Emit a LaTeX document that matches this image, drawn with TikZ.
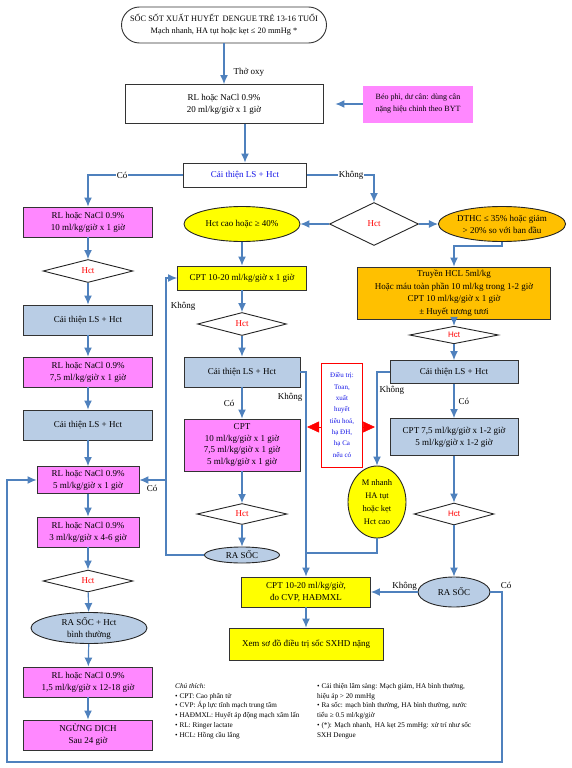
\documentclass[tikz,border=0pt]{standalone}
\usepackage{fontspec}
\setmainfont{Liberation Serif}
\newfontfamily\hsans{Liberation Sans}
\usetikzlibrary{shapes.geometric,arrows.meta}
\definecolor{lnblue}{RGB}{79,129,189}
\definecolor{pinkf}{RGB}{255,136,255}
\definecolor{bluef}{RGB}{185,205,229}
\definecolor{yelf}{RGB}{255,255,0}
\definecolor{orgf}{RGB}{255,192,0}
\definecolor{txtblue}{RGB}{20,20,230}

\begin{document}
\begin{tikzpicture}[x=1pt, y=-1pt,
  every node/.style={font=\fontsize{9}{12}\selectfont, align=center, inner sep=1pt},
  bx/.style={rectangle, draw=black!80, line width=0.9pt},
  pinkbx/.style={bx, fill=pinkf},
  bluebx/.style={bx, fill=bluef},
  yelbx/.style={bx, fill=yelf},
  hct/.style={diamond, draw=black!85, line width=0.9pt, fill=white, inner sep=0pt, text=red},
  oval/.style={ellipse, draw=black!85, line width=0.9pt, inner sep=0pt},
  arr/.style={draw=lnblue, line width=1.2pt, -{Latex[length=9pt,width=8pt]}},
  ln/.style={draw=lnblue, line width=1.2pt},
  redtip/.style={draw=red, line width=0.6pt, -{Triangle[length=12pt,width=11pt]}, red},
  lbl/.style={fill=white, inner sep=1pt},
  note/.style={font=\fontsize{7.2}{9.8}\selectfont, align=left, anchor=north west, inner sep=0pt}]

\useasboundingbox (0,0) rectangle (572,768);

\node[bx, rounded corners=18pt, minimum width=205pt, minimum height=36pt, font=\fontsize{8.3}{12}\selectfont] (top) at (224,25)
  {SỐC SỐT XUẤT HUYẾT\, DENGUE TRẺ 13-16 TUỔI\\Mạch nhanh, HA tụt hoặc kẹt ≤ 20 mmHg *};
\node[bx, minimum width=198pt, minimum height=39pt] (rl) at (224,104) {RL hoặc NaCl 0.9\%\\20 ml/kg/giờ x 1 giờ};
\node[fill=pinkf, minimum width=110pt, minimum height=37pt, font=\fontsize{8}{12}\selectfont] (beo) at (418,104) {Béo phì, dư cân: dùng cân\\nặng hiệu chỉnh theo BYT};
\node[bx, minimum width=123pt, minimum height=24pt, text=txtblue] (ct) at (245,175) {Cải thiện LS + Hct};

% cot trai
\node[pinkbx, minimum width=129pt, minimum height=30pt] (l1) at (88,222) {RL hoặc NaCl 0.9\%\\10 ml/kg/giờ x 1 giờ};
\node[hct, minimum width=90pt, minimum height=23pt] (lh1) at (88,271) {Hct};
\node[bluebx, minimum width=129pt, minimum height=30pt] (lc1) at (88,320) {Cải thiện LS + Hct};
\node[pinkbx, minimum width=129pt, minimum height=30pt] (l2) at (88,372) {RL hoặc NaCl 0.9\%\\7,5 ml/kg/giờ x 1 giờ};
\node[bluebx, minimum width=129pt, minimum height=30pt] (lc2) at (88,425) {Cải thiện LS + Hct};
\node[pinkbx, minimum width=102pt, minimum height=27pt] (l3) at (88,480) {RL hoặc NaCl 0.9\%\\5 ml/kg/giờ x 1 giờ};
\node[pinkbx, minimum width=102pt, minimum height=30pt] (l4) at (88,532) {RL hoặc NaCl 0.9\%\\3 ml/kg/giờ x 4-6 giờ};
\node[hct, minimum width=90pt, minimum height=22pt] (lh2) at (88,581) {Hct};
\node[oval, fill=bluef, minimum width=116pt, minimum height=30pt] (lra) at (89,628) {RA SỐC + Hct\\bình thường};
\node[pinkbx, minimum width=129pt, minimum height=30pt] (l5) at (88,682) {RL hoặc NaCl 0.9\%\\1,5 ml/kg/giờ x 12-18 giờ};
\node[pinkbx, minimum width=129pt, minimum height=30pt] (l6) at (88,735) {NGỪNG DỊCH\\Sau 24 giờ};

% cot giua
\node[oval, fill=yelf, minimum width=116pt, minimum height=35pt] (hcao) at (242,224) {Hct cao hoặc ≥ 40\%};
\node[yelbx, minimum width=129pt, minimum height=24pt] (mcpt) at (242,278) {CPT 10-20 ml/kg/giờ x 1 giờ};
\node[hct, minimum width=89pt, minimum height=23pt] (mh) at (242,324) {Hct};
\node[bluebx, minimum width=116pt, minimum height=30pt] (mc) at (242,372) {Cải thiện LS + Hct};
\node[pinkbx, minimum width=116pt, minimum height=52pt, font=\fontsize{9}{11.5}\selectfont] (mp) at (242,445)
  {CPT\\10 ml/kg/giờ x 1 giờ\\7,5 ml/kg/giờ x 1 giờ\\5 ml/kg/giờ x 1 giờ};
\node[hct, minimum width=90pt, minimum height=21pt] (mh2) at (242,514) {Hct};
\node[oval, fill=bluef, minimum width=75pt, minimum height=16pt] (mra) at (242,555) {RA SỐC};

% cot phai
\node[hct, minimum width=89pt, minimum height=43pt] (rh) at (374,224) {Hct};
\node[oval, fill=orgf, minimum width=121pt, minimum height=35pt] (dthc) at (502,224) {DTHC ≤ 35\% hoặc giảm\\> 20\% so với ban đầu};
\node[bx, fill=orgf, minimum width=193pt, minimum height=52pt, font=\fontsize{9}{12.5}\selectfont] (hcl) at (454,293)
  {Truyền HCL 5ml/kg\\Hoặc máu toàn phần 10 ml/kg trong 1-2 giờ\\CPT 10 ml/kg/giờ x 1 giờ\\± Huyết tương tươi};
\node[hct, minimum width=89pt, minimum height=16pt, font=\hsans\fontsize{8}{9}\selectfont] (rh2) at (454,335) {Hct};
\node[bluebx, minimum width=128pt, minimum height=23pt] (rc) at (454,372) {Cải thiện LS + Hct};
\node[bluebx, minimum width=128pt, minimum height=37pt] (rcpt) at (454,437) {CPT 7,5 ml/kg/giờ x 1-2 giờ\\5 ml/kg/giờ x 1-2 giờ};
\node[hct, minimum width=80pt, minimum height=22pt, font=\hsans\fontsize{8}{9}\selectfont] (rh3) at (454,514) {Hct};
\node[oval, fill=bluef, minimum width=72pt, minimum height=30pt] (rra) at (454,592) {RA SỐC};

\node[draw=red, line width=0.9pt, minimum width=41pt, minimum height=104pt, text=txtblue,
  font=\fontsize{7}{11.3}\selectfont] (dt) at (342,415)
  {Điều trị:\\Toan,\\xuất\\huyết\\tiêu hoá,\\hạ ĐH,\\hạ Ca\\nếu có};
\node[oval, fill=yelf, minimum width=58pt, minimum height=72pt, font=\fontsize{8.5}{13}\selectfont] (mn) at (377,502)
  {M nhanh\\HA tụt\\hoặc kẹt\\Hct cao};
\node[yelbx, minimum width=129pt, minimum height=30pt] (cpt2) at (306,592) {CPT 10-20 ml/kg/giờ,\\đo CVP, HAĐMXL};
\node[yelbx, minimum width=154pt, minimum height=32pt] (xem) at (306,644) {Xem sơ đồ điều trị sốc SXHD nặng};

\coordinate (kx) at (166,0);
\coordinate (j) at (306,553);
\coordinate (lpr) at (502,762);
\coordinate (lpl) at (7,762);

\draw[arr] (top) -- (rl) node[right, pos=0.7, xshift=8pt] {Thở oxy};
\draw[arr, shorten >=12pt] (beo) -- (rl);
\draw[arr] (ct.north |- rl.south) -- (ct.north);
\draw[arr] (ct.west) -| (l1.north) node[lbl, pos=0.32] {Có};
\draw[arr] (ct.east) -| (rh.north) node[lbl, pos=0.33] {Không};

\draw[arr] (l1) -- (lh1);
\draw[arr] (lh1) -- (lc1);
\draw[arr] (lc1) -- (l2);
\draw[arr] (l2) -- (lc2);
\draw[arr] (lc2) -- (l3);
\draw[arr] (l3) -- (l4);
\draw[arr] (l4) -- (lh2);
\draw[arr] (lh2) -- (lra);
\draw[arr] (lra) -- (l5);
\draw[arr] (l5) -- (l6);

\draw[arr] (rh) -- (hcao);
\draw[arr] (rh) -- (dthc);
\draw[arr] (hcao) -- (mcpt);
\draw[arr] (mcpt) -- (mh);
\draw[arr] (mh) -- (mc);
\draw[arr] (mc) -- (mp) node[left, midway, xshift=-6pt] {Có};
\draw[arr] (mp) -- (mh2);
\draw[arr] (mh2) -- (mra);
\draw[arr] (mc.east) -| (cpt2.north) node[anchor=east, pos=0.563, xshift=-2pt] {Không};
\draw[arr] (mra.west) -- (mra.west -| kx) |- (mcpt.west);
\draw[arr] (kx |- l3.east) -- (l3.east);
\node at (183,306) {Không};
\node at (152,488) {Có};

\draw[arr] (dthc.south) -- ++(0,4) -| (hcl.north);
\draw[arr] (hcl) -- (rh2);
\draw[arr] (rh2) -- (rc);
\draw[arr] (rc) -- (rcpt) node[right, midway, xshift=3pt] {Có};
\draw[arr] (rcpt) -- (rh3);
\draw[arr] (rh3) -- (rra);
\draw[arr] (rc.west) -| (mn.north) node[right, pos=0.6, xshift=1pt] {Không};
\draw[ln] (mn.south) |- (j);
\draw[arr] (rra) -- (cpt2) node[above, pos=0.28] {Không};
\draw[arr] (cpt2) -- (xem);
\draw[arr] (rra.east) -| (lpr) -- (lpl) |- (l3.west);
\node at (506,585) {Có};

\draw[redtip] ([yshift=-12pt]dt.west) -- ++(-14,0);
\draw[redtip] ([yshift=-12pt]dt.east) -- ++(12,0);

\node[note] (cth) at (175,683) {\textit{Chú thích:}\\• CPT: Cao phân tử\\• CVP: Áp lực tĩnh mạch trung tâm\\
  • HAĐMXL: Huyết áp động mạch xâm lấn\\• RL: Ringer lactate\\• HCL: Hồng cầu lắng};
\node[note] (cth2) at (317,683) {• Cải thiện lâm sàng: Mạch giảm, HA bình thường,\\hiệu áp > 20 mmHg\\
  • Ra sốc: mạch bình thường, HA bình thường, nước\\tiểu ≥ 0.5 ml/kg/giờ\\
  • (*): Mạch nhanh,\, HA kẹt 25 mmHg: xử trí như sốc\\SXH Dengue};
\end{tikzpicture}
\end{document}
